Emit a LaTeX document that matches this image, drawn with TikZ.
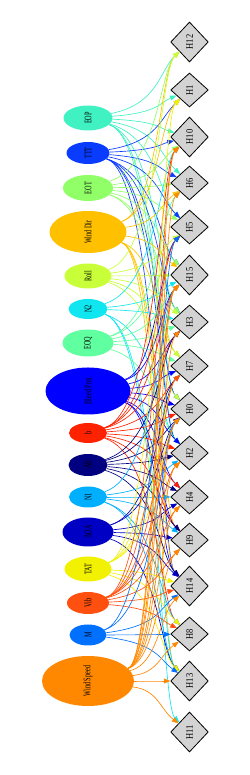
\documentclass[tikz,border=0pt]{standalone}
\usepackage{fontspec}
\setmainfont{Liberation Serif}
\usetikzlibrary{shapes.geometric,arrows.meta,calc}
\definecolor{cEOP}{HTML}{40F2C2}
\definecolor{cTTT}{HTML}{0A3CFF}
\definecolor{cEOT}{HTML}{90FF68}
\definecolor{cWD}{HTML}{FFC000}
\definecolor{cRoll}{HTML}{C8FF38}
\definecolor{cN2}{HTML}{10E6F0}
\definecolor{cEOQ}{HTML}{60FFA0}
\definecolor{cBP}{HTML}{0000FF}
\definecolor{cb}{HTML}{FF2200}
\definecolor{cAlt}{HTML}{000080}
\definecolor{cN1}{HTML}{00B0FF}
\definecolor{cAOA}{HTML}{0000C4}
\definecolor{cTAT}{HTML}{F2F200}
\definecolor{cVib}{HTML}{FF5010}
\definecolor{cM}{HTML}{0070FF}
\definecolor{cWS}{HTML}{FF8800}
\definecolor{dgray}{HTML}{D3D3D3}
\newcommand{\elab}[1]{\rotatebox{90}{\fontsize{10}{10}\selectfont\scalebox{0.62}[1]{#1}}}
\newcommand{\dlab}[1]{\rotatebox{90}{\fontsize{10}{10}\selectfont\scalebox{0.85}[1]{#1}}}
\tikzset{
  src/.style={ellipse, inner sep=0pt, draw=none},
  tgt/.style={diamond, draw=black, fill=dgray, line width=0.8pt, inner sep=0pt, minimum width=37.6pt},
  dsmall/.style={tgt, minimum height=34pt},
  dbig/.style={tgt, minimum height=40pt},
  edgeline/.style={-{Triangle[length=6.5pt,width=5pt]}, line width=0.65pt},
}
\begin{document}
\begin{tikzpicture}[x=1pt,y=1pt]
\useasboundingbox (0,0) rectangle (249,775);
% sources
\node[src, fill=cEOP, minimum width=49pt, minimum height=25pt] (EOP) at (88,657) {\elab{EOP}};
\node[src, fill=cTTT, minimum width=43pt, minimum height=22pt] (TTT) at (88,622) {\elab{TTT}};
\node[src, fill=cEOT, minimum width=50pt, minimum height=26pt] (EOT) at (88,587) {\elab{EOT}};
\node[src, fill=cWD, minimum width=77pt, minimum height=42pt] (WD) at (88,543) {\elab{Wind Dir}};
\node[src, fill=cRoll, minimum width=47pt, minimum height=25pt] (Roll) at (88,499) {\elab{Roll}};
\node[src, fill=cN2, minimum width=39pt, minimum height=20pt] (N2) at (88,466) {\elab{N2}};
\node[src, fill=cEOQ, minimum width=51pt, minimum height=27pt] (EOQ) at (88,432) {\elab{EOQ}};
\node[src, fill=cBP, minimum width=85pt, minimum height=47pt] (BP) at (88,384) {\elab{Bleed Pres}};
\node[src, fill=cb, minimum width=38pt, minimum height=20pt] (b) at (88,342) {\elab{b}};
\node[src, fill=cAlt, minimum width=39pt, minimum height=22pt] (Alt) at (88,310) {\elab{Alt}};
\node[src, fill=cN1, minimum width=38pt, minimum height=21pt] (N1) at (88,278) {\elab{N1}};
\node[src, fill=cAOA, minimum width=51pt, minimum height=29pt] (AOA) at (88,243) {\elab{AOA}};
\node[src, fill=cTAT, minimum width=47pt, minimum height=25pt] (TAT) at (88,206) {\elab{TAT}};
\node[src, fill=cVib, minimum width=42pt, minimum height=22pt] (Vib) at (88,172) {\elab{Vib}};
\node[src, fill=cM, minimum width=37pt, minimum height=21pt] (M) at (88,140) {\elab{M}};
\node[src, fill=cWS, minimum width=92pt, minimum height=50pt] (WS) at (88,94) {\elab{Wind Speed}};
% targets
\node[dbig] (H12) at (189.5,733) {\dlab{H12}};
\node[dsmall] (H1) at (189.5,685) {\dlab{H1}};
\node[dbig] (H10) at (189.5,638) {\dlab{H10}};
\node[dsmall] (H6) at (189.5,592) {\dlab{H6}};
\node[dsmall] (H5) at (189.5,548) {\dlab{H5}};
\node[dbig] (H15) at (189.5,500) {\dlab{H15}};
\node[dsmall] (H3) at (189.5,453) {\dlab{H3}};
\node[dsmall] (H7) at (189.5,409) {\dlab{H7}};
\node[dsmall] (H0) at (189.5,366) {\dlab{H0}};
\node[dsmall] (H2) at (189.5,322) {\dlab{H2}};
\node[dsmall] (H4) at (189.5,278) {\dlab{H4}};
\node[dsmall] (H9) at (189.5,235) {\dlab{H9}};
\node[dbig] (H14) at (189.5,189) {\dlab{H14}};
\node[dsmall] (H8) at (189.5,141) {\dlab{H8}};
\node[dbig] (H13) at (189.5,94) {\dlab{H13}};
\node[dbig] (H11) at (189.5,43) {\dlab{H11}};
% edges
\foreach \s/\t in {
  EOP/H12, EOP/H1, EOP/H10, EOP/H6, EOP/H5, EOP/H3, EOP/H2, EOP/H0,
  TTT/H1, TTT/H10, TTT/H6, TTT/H5, TTT/H15, TTT/H3, TTT/H0, TTT/H2, TTT/H14,
  EOT/H12, EOT/H10, EOT/H6, EOT/H5, EOT/H15, EOT/H3, EOT/H7,
  WD/H1, WD/H12, WD/H6, WD/H15, WD/H7, WD/H14, WD/H13, WD/H9,
  Roll/H12, Roll/H5, Roll/H15, Roll/H3, Roll/H0, Roll/H7,
  N2/H10, N2/H15, N2/H3, N2/H2, N2/H13, N2/H11,
  EOQ/H6, EOQ/H15, EOQ/H3, EOQ/H7, EOQ/H2, EOQ/H5,
  BP/H5, BP/H15, BP/H3, BP/H7, BP/H0, BP/H2, BP/H4, BP/H9, BP/H14,
  b/H10, b/H5, b/H15, b/H3, b/H7, b/H0, b/H2, b/H4, b/H9, b/H8,
  Alt/H3, Alt/H7, Alt/H0, Alt/H2, Alt/H4, Alt/H9, Alt/H14,
  N1/H15, N1/H2, N1/H4, N1/H9, N1/H8, N1/H13,
  AOA/H7, AOA/H0, AOA/H4, AOA/H9, AOA/H14, AOA/H13,
  TAT/H1, TAT/H15, TAT/H7, TAT/H0, TAT/H14, TAT/H8, TAT/H13,
  Vib/H10, Vib/H15, Vib/H7, Vib/H0, Vib/H2, Vib/H4, Vib/H9, Vib/H14, Vib/H8,
  M/H5, M/H0, M/H14, M/H8, M/H13,
  WS/H10, WS/H6, WS/H15, WS/H3, WS/H0, WS/H2, WS/H4, WS/H9, WS/H14, WS/H8, WS/H13, WS/H11} {
  \draw[edgeline, draw=c\s] let \p1=(\s), \p2=(\t),
    \n3={max(-28,min(28,0.45*(\y2-\y1)))},
    \n4={max(-22,min(22,0.18*(\y2-\y1)))} in
    (\s) .. controls (158,{\y1+\n4}) and (160,{\y2-\n3}) .. (\t);
}
\end{tikzpicture}
\end{document}
